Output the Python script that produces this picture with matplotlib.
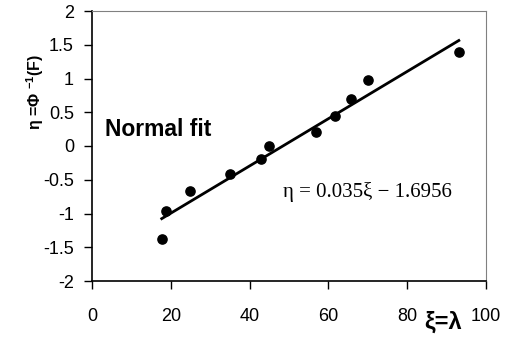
import numpy as np
import matplotlib
matplotlib.use('Agg')
import matplotlib.pyplot as plt

# data
xi = [17.7, 18.7, 24.8, 34.9, 42.8, 45.0, 56.9, 61.8, 65.8, 70.0, 93.1]
eta = [-1.38, -0.96, -0.67, -0.415, -0.19, 0.005, 0.21, 0.44, 0.70, 0.98, 1.40]
slope = 0.035
intercept = -1.6956
xticks = [0, 20, 40, 60, 80, 100]
yticks = [-2, -1.5, -1, -0.5, 0, 0.5, 1, 1.5, 2]

plt.rcParams['font.family'] = ['Liberation Sans', 'DejaVu Sans']

fig = plt.figure(figsize=(5.17, 3.37), dpi=100)
ax = fig.add_axes([92/517, 1 - 281/337, (486 - 92)/517, (281 - 11)/337])

ax.scatter(xi, eta, s=44, color='black', zorder=3)
xfit = np.array([min(xi), max(xi)])
ax.plot(xfit, slope * xfit + intercept, color='black', lw=2)

ax.set_xlim(0, 100)
ax.set_ylim(-2, 2)
ax.set_xticks(xticks)
ax.set_yticks(yticks)
ax.set_yticklabels(['-2', '-1.5', '-1', '-0.5', '0', '0.5', '1', '1.5', '2'])
ax.tick_params(direction='out', length=6, width=1, labelsize=13)
ax.tick_params(axis='x', pad=13.5)
ax.tick_params(axis='y', pad=7)
for s in ['top', 'right']:
    ax.spines[s].set_color('#808080')
    ax.spines[s].set_linewidth(0.8)
for s in ['left', 'bottom']:
    ax.spines[s].set_linewidth(1.2)

ax.text(3.3, 0.25, 'Normal fit', fontsize=16.5, fontweight='bold', va='center')
ax.text(48.5, -0.68, 'η = 0.035ξ − 1.6956', fontsize=15, va='center',
        family=['Liberation Serif', 'DejaVu Serif'])

fig.text(35/517, 1 - 92/337, 'η =Φ $\\mathregular{^{-1}}$(F)', rotation=90,
         fontsize=11.5, fontweight='bold', ha='center', va='center')
fig.text(443/517, 1 - 322/337, 'ξ=λ', fontsize=17, fontweight='bold',
         ha='center', va='center')

plt.savefig('out.png', dpi=100)
